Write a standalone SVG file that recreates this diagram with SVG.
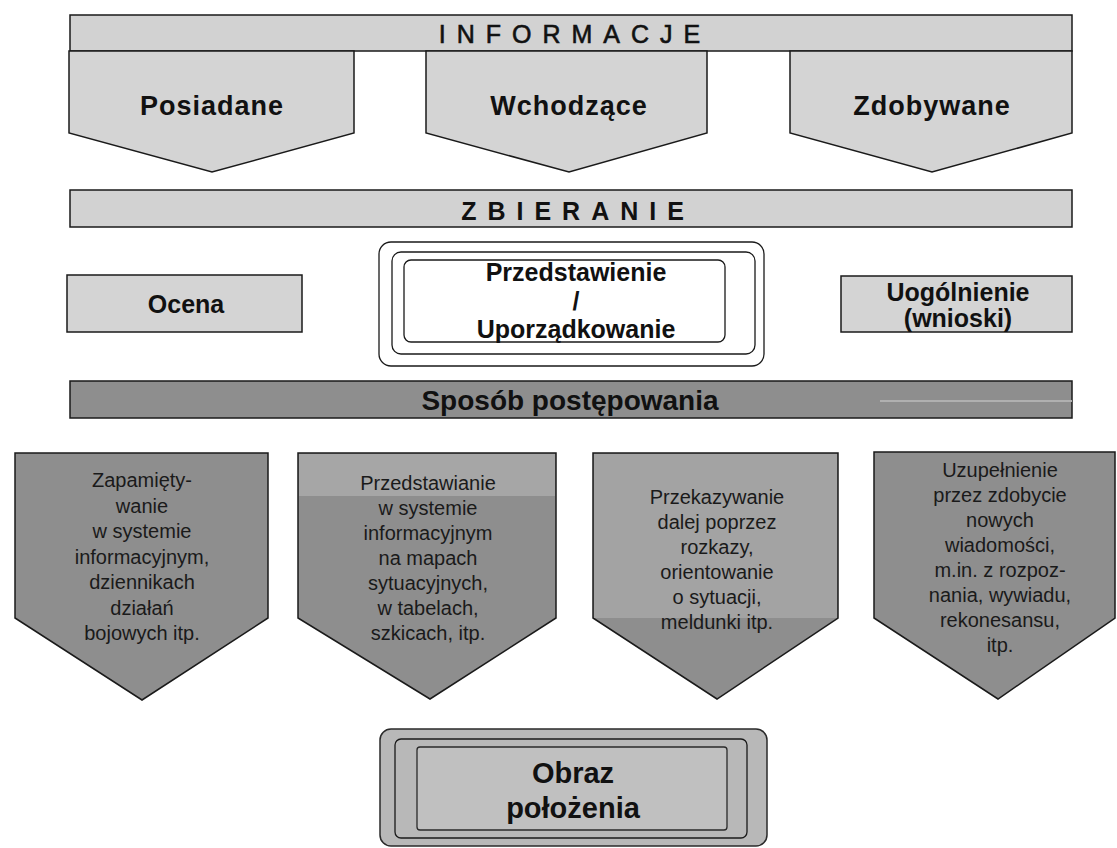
<svg xmlns="http://www.w3.org/2000/svg" width="1117" height="848" viewBox="0 0 1117 848">
<style>
.band{fill:#d2d2d2;stroke:#1a1a1a;stroke-width:1.5}
.light{fill:#d4d4d4;stroke:#1a1a1a;stroke-width:1.5}
.dark{fill:#8e8e8e;stroke:#1a1a1a;stroke-width:1.5}
.frame{fill:none;stroke:#1a1a1a;stroke-width:1.3}
.t{font-family:"Liberation Sans",Arial,sans-serif;fill:#111;text-anchor:middle}
.b{font-weight:bold}
.s{font-size:20px;fill:#1a1a1a}
</style>
<rect width="1117" height="848" fill="#ffffff"/>
<g id="connectors"/>
<g id="informacje">
<rect class="band" x="70" y="15" width="1002" height="36"/>
<text class="t" x="575" y="43" font-size="25" letter-spacing="11" stroke="#111" stroke-width="0.6">INFORMACJE</text>
</g>
<g id="posiadane">
<path class="light" d="M69,51 L354,51 L354,133 L212,172 L69,133 Z"/>
<text class="t b" x="212" y="115" font-size="27" letter-spacing="1">Posiadane</text>
</g>
<g id="wchodzace">
<path class="light" d="M426,51 L707,51 L707,133 L569,172 L426,133 Z"/>
<text class="t b" x="569" y="115" font-size="27" letter-spacing="1">Wchodzące</text>
</g>
<g id="zdobywane">
<path class="light" d="M790,51 L1072,51 L1072,133 L932,172 L790,133 Z"/>
<text class="t b" x="932" y="115" font-size="27" letter-spacing="1">Zdobywane</text>
</g>
<g id="zbieranie">
<rect class="band" x="70" y="190" width="1002" height="37"/>
<text class="t b" x="578" y="220" font-size="25" letter-spacing="11">ZBIERANIE</text>
</g>
<g id="ocena">
<rect class="light" x="67" y="275" width="235" height="57"/>
<text class="t b" x="186" y="313" font-size="25">Ocena</text>
</g>
<g id="przedstawienie">
<rect class="frame" x="379" y="242" width="385" height="124" rx="12"/>
<rect class="frame" x="392" y="252" width="363" height="102" rx="9"/>
<rect class="frame" x="404" y="260" width="321" height="82" rx="7"/>
<text class="t b" x="576" y="281" font-size="25">Przedstawienie</text>
<text class="t b" x="576" y="310" font-size="25">/</text>
<text class="t b" x="576" y="338" font-size="25">Uporządkowanie</text>
</g>
<g id="uogolnienie">
<rect class="light" x="841" y="276" width="231" height="56"/>
<text class="t b" x="958" y="301" font-size="25">Uogólnienie</text>
<text class="t b" x="958" y="327" font-size="25">(wnioski)</text>
</g>
<g id="sposob">
<rect class="dark" x="70" y="381" width="1002" height="37"/>
<line x1="880" y1="401" x2="1072" y2="401" stroke="#b0b0b0" stroke-width="2"/>
<text class="t b" x="570" y="410" font-size="28" fill="#2a2a2a">Sposób postępowania</text>
</g>
<g id="zapamietywanie">
<path class="dark" d="M15,453 L268,453 L268,618 L142,700 L15,618 Z"/>
<text class="t s"><tspan x="142" y="487">Zapamięty-</tspan><tspan x="142" y="512.5">wanie</tspan><tspan x="142" y="538">w systemie</tspan><tspan x="142" y="563.5">informacyjnym,</tspan><tspan x="142" y="589">dziennikach</tspan><tspan x="142" y="614.5">działań</tspan><tspan x="142" y="640">bojowych itp.</tspan></text>
</g>
<g id="przedstawianie">
<path class="dark" d="M298,453 L556,453 L556,618 L430,699 L298,618 Z"/>
<rect x="299" y="454" width="256" height="42" fill="#a6a6a6"/>
<text class="t s"><tspan x="428" y="490">Przedstawianie</tspan><tspan x="428" y="515">w systemie</tspan><tspan x="428" y="540">informacyjnym</tspan><tspan x="428" y="565">na mapach</tspan><tspan x="428" y="590">sytuacyjnych,</tspan><tspan x="428" y="615">w tabelach,</tspan><tspan x="428" y="640">szkicach, itp.</tspan></text>
</g>
<g id="przekazywanie">
<path class="dark" d="M593,453 L838,453 L838,618 L717,699 L593,618 Z"/>
<rect x="594" y="454" width="243" height="164" fill="#a3a3a3"/>
<text class="t s"><tspan x="717" y="504">Przekazywanie</tspan><tspan x="717" y="529">dalej poprzez</tspan><tspan x="717" y="554">rozkazy,</tspan><tspan x="717" y="579">orientowanie</tspan><tspan x="717" y="604">o sytuacji,</tspan><tspan x="717" y="629">meldunki itp.</tspan></text>
</g>
<g id="uzupelnienie">
<path class="dark" d="M874,452 L1115,452 L1115,618 L998,699 L874,618 Z"/>
<text class="t s"><tspan x="1000" y="477">Uzupełnienie</tspan><tspan x="1000" y="502">przez zdobycie</tspan><tspan x="1000" y="527">nowych</tspan><tspan x="1000" y="552">wiadomości,</tspan><tspan x="1000" y="577">m.in. z rozpoz-</tspan><tspan x="1000" y="602">nania, wywiadu,</tspan><tspan x="1000" y="627">rekonesansu,</tspan><tspan x="1000" y="652">itp.</tspan></text>
</g>
<g id="obraz">
<rect x="380" y="729" width="387" height="117" rx="11" fill="#b8b8b8" stroke="#2a2a2a" stroke-width="1.5"/>
<rect class="frame" x="395" y="739" width="352" height="99" rx="6"/>
<rect x="417" y="747" width="310" height="83" rx="3" fill="#c0c0c0" stroke="#2a2a2a" stroke-width="1.3"/>
<text class="t b" x="573" y="783" font-size="29">Obraz</text>
<text class="t b" x="573" y="818" font-size="29">położenia</text>
</g>
</svg>
